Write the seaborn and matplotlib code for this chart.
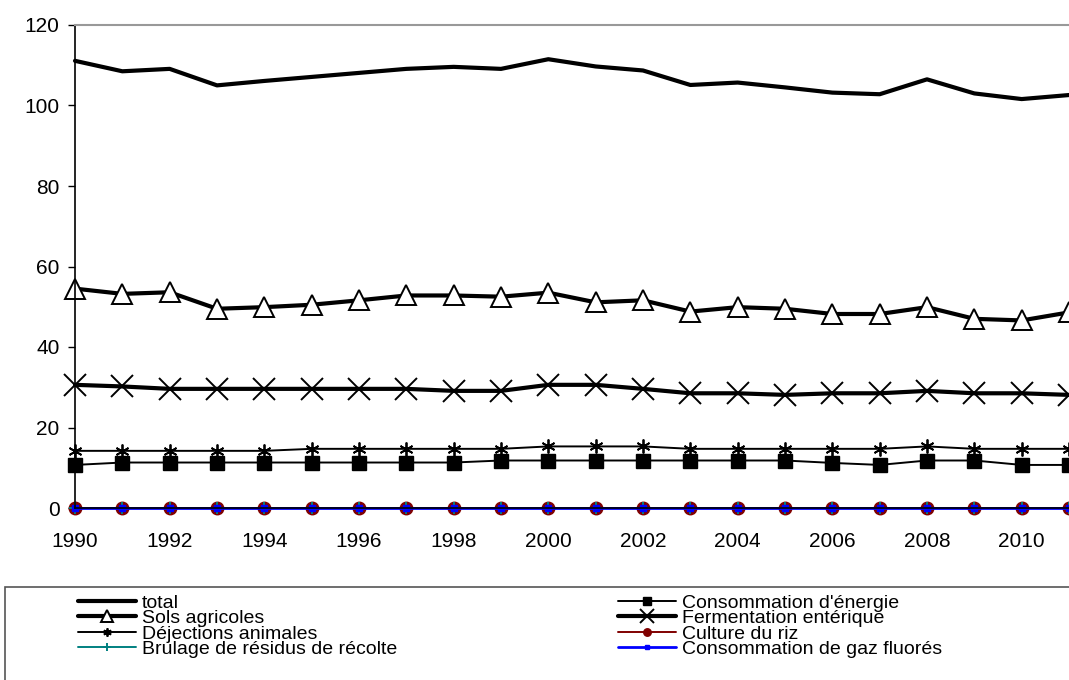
import numpy as np
import pandas as pd
import seaborn as sns
import matplotlib.pyplot as plt
from matplotlib.patches import Rectangle

years = list(range(1990, 2012))

total = [111.1, 108.5, 109.1, 105.0, 106.1, 107.1, 108.1, 109.1, 109.6, 109.1, 111.5,
         109.7, 108.7, 105.1, 105.7, 104.5, 103.2, 102.8, 106.5, 103.0, 101.6, 102.6]
sols_agricoles = [54.5, 53.2, 53.6, 49.5, 49.9, 50.5, 51.6, 52.8, 52.8, 52.5, 53.5,
                  51.1, 51.6, 48.8, 49.9, 49.5, 48.2, 48.2, 49.9, 47.0, 46.6, 48.6]
fermentation = [30.6, 30.2, 29.6, 29.6, 29.6, 29.6, 29.6, 29.6, 29.1, 29.1, 30.6,
                30.6, 29.6, 28.5, 28.5, 28.1, 28.5, 28.5, 29.1, 28.5, 28.5, 28.1]
dejections = [14.2, 14.2, 14.2, 14.2, 14.2, 14.7, 14.7, 14.7, 14.7, 14.7, 15.3,
              15.3, 15.3, 14.7, 14.7, 14.7, 14.7, 14.7, 15.3, 14.7, 14.7, 14.7]
energie = [10.7, 11.3, 11.3, 11.3, 11.3, 11.3, 11.3, 11.3, 11.3, 11.8, 11.8,
           11.8, 11.8, 11.8, 11.8, 11.8, 11.2, 10.7, 11.8, 11.8, 10.7, 10.7]
riz = [0.0] * 22
brulage = [0.0] * 22
gaz_fluores = [0.0] * 22

x_ticks = list(range(1990, 2011, 2))
y_ticks = [0, 20, 40, 60, 80, 100, 120]

df = pd.DataFrame({"annee": years, "total": total, "sols": sols_agricoles,
                   "ferm": fermentation, "dej": dejections, "energie": energie,
                   "riz": riz, "brulage": brulage, "gaz": gaz_fluores})

sns.set_theme(style="white")
plt.rcParams["font.family"] = ["Liberation Sans", "DejaVu Sans"]
plt.rcParams["text.color"] = "black"
plt.rcParams["xtick.color"] = "black"
plt.rcParams["ytick.color"] = "black"

fig = plt.figure(figsize=(10.69, 6.8), dpi=100)
ax = fig.add_axes([75 / 1069, 172 / 680, 994 / 1069, 483 / 680])

# (column, label, color, linewidth, marker, markersize, facecolor, mew)
series = [
    ("total", "total", "black", 3.0, None, 0, "black", 0),
    ("sols", "Sols agricoles", "black", 3.0, "^", 14, "white", 1.4),
    ("dej", "Déjections animales", "black", 1.4, (6, 2, 0), 10, "black", 1.3),
    ("brulage", "Brulage de résidus de récolte", "#008080", 1.4, "+", 9, "#008080", 1.4),
    ("energie", "Consommation d'énergie", "black", 1.4, "s", 9.5, "black", 1),
    ("ferm", "Fermentation entérique", "black", 3.0, "x", 16, "black", 1.4),
    ("riz", "Culture du riz", "#800000", 1.4, "o", 9, "#800000", 1),
    ("gaz", "Consommation de gaz fluorés", "#0000ff", 2.0, "s", 5, "#0000ff", 1),
]

draw_order = ["total", "sols", "ferm", "dej", "energie", "riz", "brulage", "gaz"]
handles = {}
for col in draw_order:
    c, lab, color, lw, mk, ms, fc, mew = next(s for s in series if s[0] == col)
    sns.lineplot(data=df, x="annee", y=col, ax=ax, color=color, linewidth=lw,
                 marker=mk, markersize=ms, markerfacecolor=fc, markeredgecolor=color,
                 markeredgewidth=mew, label=lab, legend=False, clip_on=False)
    handles[col] = ax.lines[-1]

ax.set_xlim(1990, 2011)
ax.set_ylim(0, 120)
ax.set_xticks(x_ticks)
ax.set_yticks(y_ticks)
ax.set_xlabel("")
ax.set_ylabel("")
ax.tick_params(axis="y", length=5, width=1, color="black", pad=6, labelsize=15, left=True)
ax.tick_params(axis="x", length=0, pad=17, labelsize=15)
for side in ["left", "bottom"]:
    ax.spines[side].set_color("black")
    ax.spines[side].set_linewidth(1.2)
ax.spines["top"].set_color("#999999")
ax.spines["top"].set_linewidth(1.5)
ax.spines["right"].set_visible(False)

# legend box
fig.patches.append(Rectangle((5 / 1069, -0.1), 1.1, 0.1 + 93 / 680,
                             transform=fig.transFigure, fill=False,
                             edgecolor="#555555", linewidth=1.2))

col1 = [handles[c] for c in ["total", "sols", "dej", "brulage"]]
col2 = [handles[c] for c in ["energie", "ferm", "riz", "gaz"]]
kw = dict(loc="upper left", frameon=False, fontsize=14, handlelength=3.0,
          handletextpad=0.3, labelspacing=-0.11, borderpad=0, borderaxespad=0,
          markerscale=0.6)
fig.legend(handles=col1, labels=[h.get_label() for h in col1],
           bbox_to_anchor=(78 / 1069, 1 - 594 / 680), **kw)
fig.legend(handles=col2, labels=[h.get_label() for h in col2],
           bbox_to_anchor=(618 / 1069, 1 - 594 / 680), **kw)

fig.savefig("out.png", dpi=100)
